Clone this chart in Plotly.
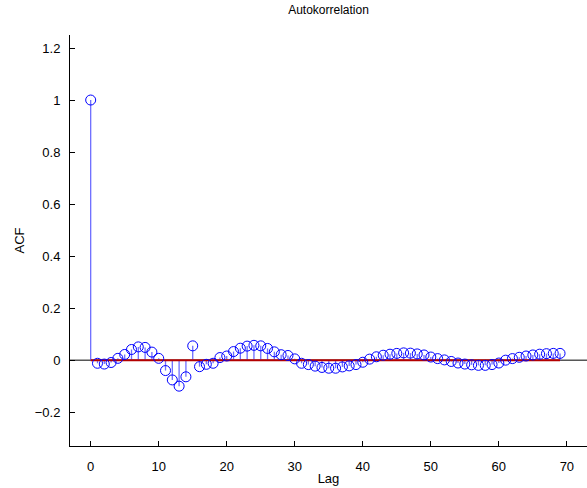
import plotly.graph_objects as go

# Sample autocorrelation function, lags 0..69
lags = list(range(70))
acf = [
    1.0, -0.012, -0.015, -0.009, 0.007, 0.022, 0.041, 0.051, 0.049, 0.031,
    0.007, -0.04, -0.076, -0.1, -0.064, 0.055, -0.025, -0.016, -0.012, 0.01,
    0.016, 0.033, 0.046, 0.054, 0.057, 0.055, 0.045, 0.032, 0.021, 0.018,
    0.005, -0.012, -0.017, -0.023, -0.028, -0.031, -0.031, -0.026, -0.022, -0.017,
    -0.008, 0.004, 0.013, 0.019, 0.023, 0.026, 0.028, 0.027, 0.024, 0.02,
    0.012, 0.006, 0.001, -0.005, -0.011, -0.015, -0.018, -0.02, -0.02, -0.017,
    -0.011, 0.0, 0.006, 0.011, 0.016, 0.02, 0.023, 0.025, 0.026, 0.026,
]
x_ticks = [0, 10, 20, 30, 40, 50, 60, 70]
y_ticks = [-0.2, 0, 0.2, 0.4, 0.6, 0.8, 1, 1.2]
y_tick_text = ["\u22120.2", "0", "0.2", "0.4", "0.6", "0.8", "1", "1.2"]

# stem lines: one segment per lag, separated by None
stem_x, stem_y = [], []
for lag, v in zip(lags, acf):
    stem_x += [lag, lag, None]
    stem_y += [0, v, None]

fig = go.Figure()
# zero line across the full axis
fig.add_trace(go.Scatter(x=[-10, 80], y=[0, 0], mode="lines",
                         line=dict(color="black", width=1),
                         hoverinfo="skip", showlegend=False))
fig.add_trace(go.Scatter(x=stem_x, y=stem_y, mode="lines",
                         line=dict(color="rgb(110,110,255)", width=1.3),
                         hoverinfo="skip", showlegend=False))
# stem baseline
fig.add_trace(go.Scatter(x=[lags[0], lags[-1]], y=[0, 0], mode="lines",
                         line=dict(color="rgb(180,0,0)", width=2),
                         hoverinfo="skip", showlegend=False))
fig.add_trace(go.Scatter(x=lags, y=acf, mode="markers",
                         marker=dict(symbol="circle-open", size=10,
                                     color="rgb(0,0,255)",
                                     line=dict(width=1, color="rgb(0,0,255)")),
                         showlegend=False))

font = "Liberation Sans, Arial, Helvetica, sans-serif"
fig.update_layout(
    width=587, height=488,
    margin=dict(l=70, r=0, t=35, b=42),
    paper_bgcolor="white", plot_bgcolor="white",
    font=dict(family=font, size=13, color="black"),
    title=dict(text="Autokorrelation", x=0.5, xref="paper", y=1 - 10 / 488,
               yanchor="middle", font=dict(size=12)),
    xaxis=dict(range=[-3.04, 72.96], tickvals=x_ticks, ticks="inside",
               ticklen=5, tickcolor="black", showline=True, linecolor="black",
               linewidth=1, showgrid=False, zeroline=False,
               ticklabelstandoff=8,
               title=dict(text="Lag", standoff=1, font=dict(size=13)),
               mirror=False),
    yaxis=dict(range=[-0.33, 1.25], tickvals=y_ticks, ticktext=y_tick_text,
               ticks="inside", ticklen=5, tickcolor="black", showline=True,
               linecolor="black", linewidth=1, showgrid=False, zeroline=False,
               ticklabelstandoff=6,
               title=dict(text="ACF", standoff=7, font=dict(size=13))),
)

fig.write_html("out.html")
